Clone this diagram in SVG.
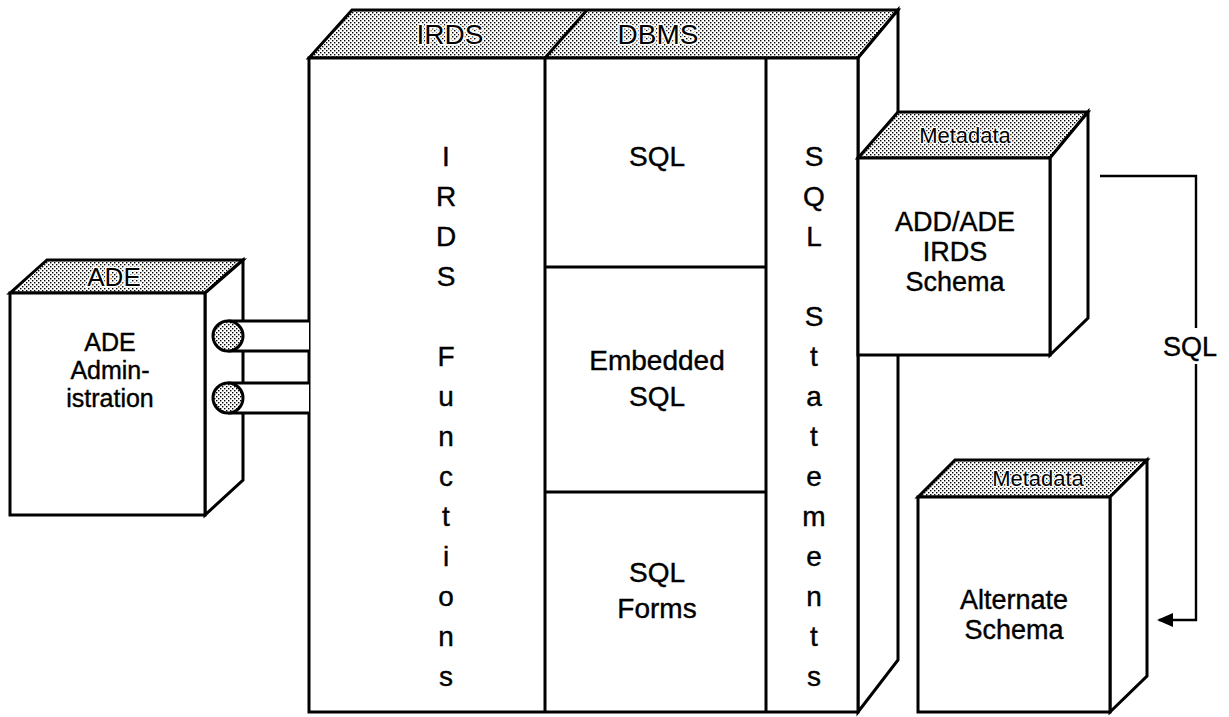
<svg xmlns="http://www.w3.org/2000/svg" width="1229" height="717" viewBox="0 0 1229 717">
<defs>
<pattern id="dots" width="4" height="4" patternUnits="userSpaceOnUse">
<rect width="4" height="4" fill="#fff"/>
<rect x="0" y="0" width="1.4" height="1.4" fill="#000"/>
<rect x="2" y="2" width="1.4" height="1.4" fill="#000"/>
</pattern>
<marker id="arr" markerWidth="16" markerHeight="14" refX="14" refY="7" orient="auto" markerUnits="userSpaceOnUse">
<path d="M0,0 L16,7 L0,14 Z" fill="#000"/>
</marker>
</defs>
<style>
.face{fill:#fff;stroke:#000;stroke-width:3;stroke-linejoin:miter}
.top{fill:url(#dots);stroke:#000;stroke-width:3;stroke-linejoin:miter}
.ln{fill:none;stroke:#000;stroke-width:3}
.con{fill:none;stroke:#000;stroke-width:2.4}
.t{font-family:"Liberation Sans",Arial,Helvetica,sans-serif;font-size:28px;fill:#000;stroke:#000;stroke-width:0.4;text-anchor:middle}
.tl{font-family:"Liberation Sans",Arial,Helvetica,sans-serif;font-size:28px;fill:#000;text-anchor:middle;paint-order:stroke;stroke:#fff;stroke-width:3}
.tm{font-family:"Liberation Sans",Arial,Helvetica,sans-serif;font-size:22px;fill:#000;text-anchor:middle;paint-order:stroke;stroke:#fff;stroke-width:2.5}
</style>

<g id="main-box">
<polygon class="top" points="309,58 352,10 898,10 858,58"/>
<polygon class="face" points="858,58 898,10 898,660 858,712"/>
<rect class="face" x="309" y="58" width="549" height="654"/>
<line class="ln" x1="545" y1="58" x2="587" y2="10"/>
<line class="ln" x1="545" y1="58" x2="545" y2="712"/>
<line class="ln" x1="766" y1="58" x2="766" y2="712"/>
<line class="ln" x1="545" y1="267" x2="766" y2="267"/>
<line class="ln" x1="545" y1="492" x2="766" y2="492"/>
<text class="tl" x="450" y="44">IRDS</text>
<text class="tl" x="658" y="44">DBMS</text>
<g class="t">
<text x="446" y="166">I</text>
<text x="446" y="206">R</text>
<text x="446" y="246">D</text>
<text x="446" y="286">S</text>
<text x="446" y="366">F</text>
<text x="446" y="406">u</text>
<text x="446" y="446">n</text>
<text x="446" y="486">c</text>
<text x="446" y="526">t</text>
<text x="446" y="566">i</text>
<text x="446" y="606">o</text>
<text x="446" y="646">n</text>
<text x="446" y="686">s</text>
</g>
<g class="t">
<text x="814" y="166">S</text>
<text x="814" y="206">Q</text>
<text x="814" y="246">L</text>
<text x="814" y="326">S</text>
<text x="814" y="366">t</text>
<text x="814" y="406">a</text>
<text x="814" y="446">t</text>
<text x="814" y="486">e</text>
<text x="814" y="526">m</text>
<text x="814" y="566">e</text>
<text x="814" y="606">n</text>
<text x="814" y="646">t</text>
<text x="814" y="686">s</text>
</g>
<text class="t" x="657" y="166">SQL</text>
<text class="t" x="657" y="370">Embedded</text>
<text class="t" x="657" y="406">SQL</text>
<text class="t" x="657" y="582">SQL</text>
<text class="t" x="657" y="618">Forms</text>
</g>

<g id="ade-box">
<polygon class="top" points="10,293 47,260 243,260 205,293"/>
<polygon class="face" points="205,293 243,260 243,480 205,515"/>
<rect class="face" x="10" y="293" width="195" height="222"/>
<text class="tl" x="114" y="286" style="font-size:26px">ADE</text>
<text class="t" x="110" y="351" style="font-size:25px">ADE</text>
<text class="t" x="110" y="379" style="font-size:25px">Admin-</text>
<text class="t" x="110" y="407" style="font-size:25px">istration</text>
</g>

<g id="ade-links">
<rect x="228" y="321" width="81" height="30" fill="#fff"/>
<line class="ln" x1="228" y1="321" x2="309" y2="321"/>
<line class="ln" x1="228" y1="351" x2="309" y2="351"/>
<circle cx="228" cy="336" r="15" class="top"/>
<rect x="228" y="383" width="81" height="30" fill="#fff"/>
<line class="ln" x1="228" y1="383" x2="309" y2="383"/>
<line class="ln" x1="228" y1="413" x2="309" y2="413"/>
<circle cx="228" cy="398" r="15" class="top"/>
</g>

<g id="metadata-irds-schema">
<polygon class="top" points="858,158 898,112 1088,112 1050,158"/>
<polygon class="face" points="1050,158 1088,112 1088,318 1050,355"/>
<rect class="face" x="858" y="158" width="192" height="197"/>
<text class="tm" x="965" y="143">Metadata</text>
<text class="t" x="955" y="231" style="font-size:27px">ADD/ADE</text>
<text class="t" x="955" y="261" style="font-size:27px">IRDS</text>
<text class="t" x="955" y="291" style="font-size:27px">Schema</text>
</g>

<g id="metadata-alternate">
<polygon class="top" points="918,497 955,460 1147,460 1110,497"/>
<polygon class="face" points="1110,497 1147,460 1147,676 1110,712"/>
<rect class="face" x="918" y="497" width="192" height="215"/>
<text class="tm" x="1038" y="486">Metadata</text>
<text class="t" x="1014" y="609" style="font-size:27px">Alternate</text>
<text class="t" x="1014" y="639" style="font-size:27px">Schema</text>
</g>

<g id="connectors">
<polyline class="con" points="1100,176 1196,176 1196,328"/>
<polyline class="con" points="1196,364 1196,620 1159,620" marker-end="url(#arr)"/>
<text class="t" x="1190" y="356" style="font-size:27px">SQL</text>
</g>
</svg>
